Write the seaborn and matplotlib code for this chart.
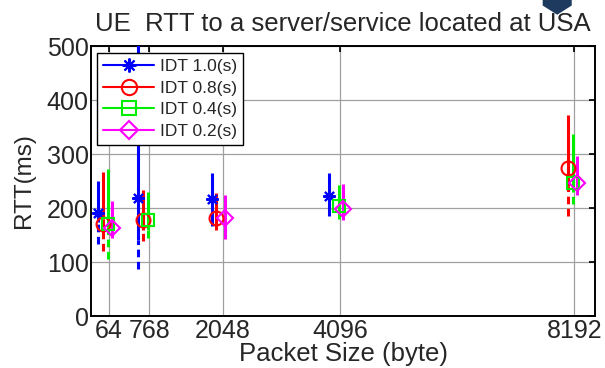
import numpy as np
import matplotlib
matplotlib.use("Agg")
import matplotlib.pyplot as plt
import matplotlib.patches as mpatches
from matplotlib.lines import Line2D
import seaborn as sns

# --- Data ---
packet_sizes = [64, 768, 2048, 4096, 8192]
series_labels = ["IDT 1.0(s)", "IDT 0.8(s)", "IDT 0.4(s)", "IDT 0.2(s)"]

# mean RTT (ms), nan where a series has no point
rtt_idt10 = [190, 219, 217, 223, np.nan]
rtt_idt08 = [171, 178, 182, np.nan, 275]
rtt_idt04 = [171, 177, np.nan, 203, 247]
rtt_idt02 = [164, np.nan, 182, 199, 247]

# top of the solid bar (ms)
top_idt10 = [251, 520, 264, 264, np.nan]
top_idt08 = [266, 234, 227, np.nan, 372]
top_idt04 = [273, 230, np.nan, 242, 338]
top_idt02 = [214, np.nan, 225, 245, 297]

# bottom of the solid bar (ms)
mid_idt10 = [175, 140, 167, 186, np.nan]
mid_idt08 = [180, 160, 160, np.nan, 240]
mid_idt04 = [165, 160, np.nan, 180, 230]
mid_idt02 = [145, np.nan, 143, 178, 225]

# bottom of the dashed tail (ms)
low_idt10 = [134, 87, 167, 186, np.nan]
low_idt08 = [121, 139, 160, np.nan, 186]
low_idt04 = [106, 145, np.nan, 180, 208]
low_idt02 = [145, np.nan, 143, 178, 225]

# --- Style ---
sns.set_theme(style="whitegrid")
plt.rcParams['font.family'] = ['Liberation Sans', 'DejaVu Sans']

colors = ['#0000ff', '#ff0000', '#00ee00', '#ff00ff']
markers = [(8, 2, 0), 'o', 's', 'D']
msizes = [9, 10, 9, 8]
x_shift = [-190, -110, -20, 50]   # small offsets so series don't overlap

means = [rtt_idt10, rtt_idt08, rtt_idt04, rtt_idt02]
tops = [top_idt10, top_idt08, top_idt04, top_idt02]
mids = [mid_idt10, mid_idt08, mid_idt04, mid_idt02]
lows = [low_idt10, low_idt08, low_idt04, low_idt02]

fig = plt.figure(figsize=(6.05, 3.68), dpi=100)
ax = fig.add_axes([0.151, 0.141, 0.832, 0.734])
ax.set_facecolor('white')

for i in range(4):
    x = np.array(packet_sizes) + x_shift[i]
    m = np.array(means[i], dtype=float)
    t = np.array(tops[i], dtype=float)
    md = np.array(mids[i], dtype=float)
    lo = np.array(lows[i], dtype=float)
    ok = ~np.isnan(m)
    ax.vlines(x[ok], md[ok], t[ok], color=colors[i], lw=2.2, zorder=3)
    ax.vlines(x[ok], lo[ok], md[ok], color=colors[i], lw=2.2,
              linestyles=(0, (2.5, 1.5)), zorder=3)
    ax.plot(x[ok], m[ok], ls='none', marker=markers[i], ms=msizes[i],
            mfc='none', mec=colors[i], mew=1.5, zorder=4)

ax.set_xlim(-245, 8550)
ax.set_ylim(0, 500)
ax.set_xticks(packet_sizes)
ax.set_yticks(np.arange(0, 501, 100))
ax.tick_params(axis='both', labelsize=18, direction='in', length=4,
               top=True, right=True, color='black', pad=2)
ax.grid(True, color='#a0a0a0', lw=0.9)
for s in ax.spines.values():
    s.set_color('black')
    s.set_linewidth(1.4)

ax.set_title("UE  RTT to a server/service located at USA", fontsize=18.5, pad=11)
ax.set_xlabel("Packet Size (byte)", fontsize=18.5, labelpad=-1)
ax.set_ylabel("RTT(ms)", fontsize=17.5, labelpad=8)

handles = [Line2D([0], [0], color=colors[i], lw=1.5, marker=markers[i],
                  ms=msizes[i] + 1, mfc='none', mec=colors[i], mew=1.5)
           for i in range(4)]
leg = ax.legend(handles, series_labels, loc='upper left',
                bbox_to_anchor=(0.012, 0.975), fontsize=12.5, frameon=True,
                fancybox=False, framealpha=1, edgecolor='black',
                handlelength=2.9, handletextpad=0.35, borderpad=0.35,
                labelspacing=0.38, borderaxespad=0)
leg.get_frame().set_linewidth(1.0)

# slide decoration at the top edge
fig.patches.append(mpatches.Polygon(
    [[0.897, 1.0], [0.945, 1.0], [0.945, 0.985], [0.921, 0.96], [0.897, 0.985]],
    closed=True, transform=fig.transFigure, facecolor='#1f3a5f',
    edgecolor='none'))

fig.savefig("out.png", dpi=100)
